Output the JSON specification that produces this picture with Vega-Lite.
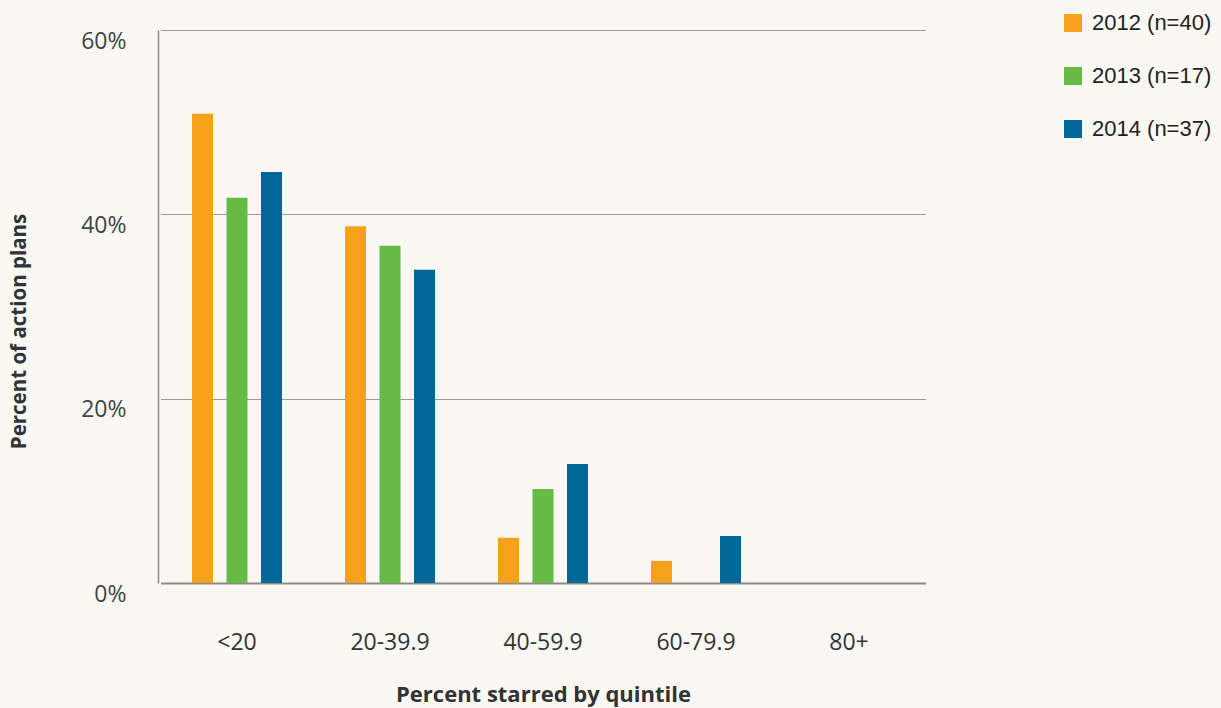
{
  "$schema": "https://vega.github.io/schema/vega-lite/v6.json",
  "width": 767,
  "height": 553,
  "autosize": {"type": "none"},
  "padding": {"left": 158, "top": 30, "right": 296, "bottom": 125},
  "background": "#faf8f3",
  "config": {
    "view": {"stroke": null},
    "font": "Open Sans",
    "axis": {"labelFont": "Open Sans", "titleFont": "Open Sans"}
  },
  "data": {
    "values": [
      {"quintile": "<20", "year": "2012 (n=40)", "pct": 50.9},
      {"quintile": "<20", "year": "2013 (n=17)", "pct": 41.8},
      {"quintile": "<20", "year": "2014 (n=37)", "pct": 44.6},
      {"quintile": "20-39.9", "year": "2012 (n=40)", "pct": 38.7},
      {"quintile": "20-39.9", "year": "2013 (n=17)", "pct": 36.6},
      {"quintile": "20-39.9", "year": "2014 (n=37)", "pct": 34.0},
      {"quintile": "40-59.9", "year": "2012 (n=40)", "pct": 4.9},
      {"quintile": "40-59.9", "year": "2013 (n=17)", "pct": 10.2},
      {"quintile": "40-59.9", "year": "2014 (n=37)", "pct": 12.9},
      {"quintile": "60-79.9", "year": "2012 (n=40)", "pct": 2.4},
      {"quintile": "60-79.9", "year": "2013 (n=17)", "pct": 0},
      {"quintile": "60-79.9", "year": "2014 (n=37)", "pct": 5.1},
      {"quintile": "80+", "year": "2012 (n=40)", "pct": 0},
      {"quintile": "80+", "year": "2013 (n=17)", "pct": 0},
      {"quintile": "80+", "year": "2014 (n=37)", "pct": 0}
    ]
  },
  "mark": {"type": "bar"},
  "encoding": {
    "x": {
      "field": "quintile",
      "type": "nominal",
      "sort": ["<20", "20-39.9", "40-59.9", "60-79.9", "80+"],
      "scale": {"paddingInner": 0, "paddingOuter": 0, "range": [2.5, 767.5]},
      "axis": {
        "title": "Percent starred by quintile",
        "titleFontSize": 22,
        "titleFontWeight": "bold",
        "titleColor": "#333333",
        "titlePadding": 30,
        "labelAngle": 0,
        "labelFontSize": 23,
        "labelColor": "#333333",
        "labelPadding": 48,
        "ticks": false,
        "domainColor": "#8a8a8a",
        "domainWidth": 2,
        "grid": false
      }
    },
    "xOffset": {
      "field": "year",
      "type": "nominal",
      "scale": {"paddingInner": 0.391, "paddingOuter": 0.913}
    },
    "y": {
      "field": "pct",
      "type": "quantitative",
      "scale": {"domain": [0, 60]},
      "axis": {
        "title": "Percent of action plans",
        "titleFontSize": 20.5,
        "titleFontWeight": "bold",
        "titleColor": "#333333",
        "titleY": 301,
        "titlePadding": 51,
        "values": [0, 20, 40, 60],
        "labelExpr": "datum.value + '%'",
        "labelFontSize": 23,
        "labelColor": "#444444",
        "labelPadding": 32,
        "labelOffset": 11,
        "ticks": false,
        "domainColor": "#8a8a8a",
        "domainWidth": 1.5,
        "grid": true,
        "gridColor": "#9a9a9a",
        "gridWidth": 1
      }
    },
    "color": {
      "field": "year",
      "type": "nominal",
      "scale": {"range": ["#f7a01c", "#66bb47", "#016699"]},
      "legend": {
        "title": null,
        "orient": "none",
        "legendX": 904,
        "legendY": -18,
        "symbolType": "square",
        "symbolSize": 324,
        "symbolStrokeWidth": 0,
        "labelFontSize": 22,
        "labelColor": "#222222",
        "labelFont": "Liberation Sans",
        "labelOffset": 8,
        "rowPadding": 31
      }
    }
  }
}
